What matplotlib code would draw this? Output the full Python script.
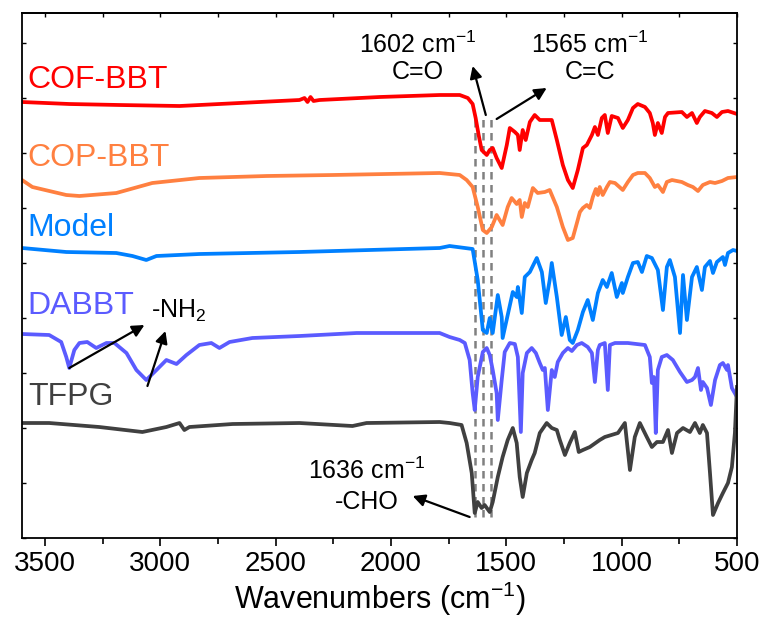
import numpy as np
import matplotlib.pyplot as plt
from matplotlib.ticker import MultipleLocator, NullFormatter

plt.rcParams['font.family'] = ['Liberation Sans', 'DejaVu Sans']
plt.rcParams['mathtext.fontset'] = 'custom'
plt.rcParams['mathtext.rm'] = 'Liberation Sans'
plt.rcParams['mathtext.it'] = 'Liberation Sans'

# FTIR spectra, wavenumber (cm-1) vs. offset transmittance (a.u.)
cof_wn = [3600, 3395, 3178, 2917, 2657, 2397, 2375, 2362, 2349, 2336, 2310, 2049, 1789, 1702, 1667,
          1646, 1633, 1620, 1607, 1585, 1572, 1559, 1542, 1520, 1498, 1485, 1463, 1450, 1442, 1429,
          1416, 1398, 1377, 1355, 1303, 1281, 1255, 1233, 1212, 1190, 1168, 1151, 1129, 1116, 1103,
          1086, 1073, 1060, 1043, 1016, 995, 973, 951, 930, 899, 878, 865, 856, 843, 826, 812, 799,
          739, 717, 695, 674, 661, 639, 609, 587, 565, 539, 500]
cof_t = [436, 434, 433, 432, 435, 438, 440, 436, 441, 437, 438, 441, 443, 443, 440,
         434, 420, 403, 388, 383, 388, 390, 380, 370, 393, 410, 406, 403, 388, 408,
         398, 416, 423, 418, 418, 398, 373, 358, 350, 368, 390, 393, 403, 411, 403,
         420, 423, 405, 422, 420, 410, 418, 430, 434, 431, 425, 415, 403, 415, 405, 421, 425,
         426, 421, 425, 415, 421, 427, 425, 421, 426, 427, 424]

cop_wn = [3600, 3555, 3408, 3351, 3191, 3035, 2831, 2540, 2253, 1789, 1702, 1672, 1646, 1624, 1602,
          1585, 1563, 1542, 1529, 1516, 1494, 1477, 1455, 1442, 1433, 1420, 1407, 1385, 1364, 1333,
          1312, 1281, 1255, 1233, 1212, 1194, 1181, 1168, 1151, 1138, 1125, 1112, 1103, 1095, 1082,
          1064, 1051, 1029, 995, 973, 951, 930, 899, 878, 856, 843, 821, 804, 782, 739, 713, 691,
          669, 648, 617, 595, 565, 539, 500]
cop_t = [358, 351, 343, 342, 345, 355, 360, 362, 363, 365, 363, 358, 351, 331, 308,
         305, 311, 323, 318, 313, 331, 340, 334, 338, 321, 335, 331, 350, 345, 346,
         348, 331, 311, 298, 300, 315, 326, 330, 333, 330, 341, 349, 343, 351, 343,
         351, 356, 355, 348, 356, 363, 365, 365, 360, 351, 353, 346, 356, 358, 356, 353, 351,
         347, 353, 356, 355, 357, 360, 361]

model_wn = [3600, 3408, 3191, 3121, 3061, 3017, 2831, 2397, 1789, 1746, 1646, 1624, 1602, 1585, 1572,
            1559, 1537, 1520, 1516, 1494, 1472, 1455, 1450, 1433, 1420, 1398, 1368, 1346, 1329, 1312,
            1303, 1281, 1260, 1242, 1225, 1212, 1190, 1168, 1147, 1125, 1103, 1082, 1064, 1043, 1021,
            999, 995, 973, 951, 930, 912, 891, 869, 843, 821, 804, 791, 769, 747, 734, 717, 695,
            674, 652, 639, 617, 604, 587, 561, 552, 539, 517, 500]
model_t = [290, 286, 285, 282, 278, 282, 284, 286, 290, 292, 289, 258, 208, 205, 220,
           205, 243, 221, 200, 223, 246, 241, 251, 225, 261, 266, 280, 266, 235, 258,
           275, 241, 203, 221, 198, 195, 208, 226, 238, 218, 245, 258, 251, 265, 241,
           255, 245, 261, 275, 276, 266, 282, 280, 268, 228, 271, 278, 261, 205, 263, 218, 261,
           271, 248, 271, 277, 265, 276, 281, 273, 285, 288, 287]

dabbt_wn = [3600, 3482, 3430, 3408, 3395, 3373, 3351, 3317, 3278, 3234, 3199, 3147, 3104, 3061, 3017,
            2974, 2930, 2887, 2831, 2779, 2744, 2700, 2601, 2397, 2149, 1789, 1746, 1702, 1680, 1659,
            1646, 1637, 1624, 1602, 1585, 1572, 1559, 1542, 1537, 1520, 1507, 1485, 1463, 1450, 1437,
            1429, 1411, 1390, 1372, 1355, 1342, 1333, 1320, 1303, 1290, 1277, 1255, 1233, 1216, 1194,
            1173, 1147, 1129, 1116, 1103, 1095, 1073, 1060, 1051, 1029, 973, 899, 878, 869, 860,
            852, 843, 826, 804, 778, 747, 717, 695, 682, 669, 656, 648, 630, 613, 595, 574, 561,
            543, 539, 522, 500]
dabbt_t = [204, 203, 196, 181, 170, 188, 195, 196, 190, 195, 195, 185, 168, 158, 168,
           178, 174, 183, 193, 195, 190, 196, 200, 202, 205, 205, 201, 198, 195, 178,
           145, 128, 161, 186, 190, 183, 168, 145, 118, 158, 186, 195, 194, 181, 106,
           165, 185, 190, 185, 175, 168, 170, 128, 168, 161, 176, 185, 190, 187, 193,
           195, 191, 185, 156, 188, 193, 195, 148, 193, 195, 195, 193, 181, 155, 161,
           105, 168, 181, 183, 178, 166, 156, 158, 161, 170, 148, 156, 150, 133, 158, 173, 175,
           168, 173, 150, 141]

tfpg_wn = [3600, 3482, 3265, 3078, 2974, 2917, 2896, 2874, 2687, 2397, 2167, 2106, 1789, 1746, 1694,
           1672, 1650, 1637, 1624, 1607, 1594, 1572, 1559, 1537, 1516, 1494, 1472, 1455, 1442, 1429,
           1411, 1390, 1377, 1355, 1325, 1303, 1281, 1268, 1246, 1225, 1203, 1186, 1168, 1138, 1095,
           1073, 1016, 986, 964, 943, 921, 891, 869, 847, 821, 799, 782, 760, 734, 704, 682, 661,
           648, 630, 617, 604, 582, 561, 539, 522, 509, 500]
tfpg_t = [115, 115, 111, 106, 111, 115, 108, 111, 114, 115, 112, 115, 116, 115, 113,
          95, 65, 25, 36, 30, 33, 26, 36, 61, 81, 98, 110, 95, 61, 41,
          65, 78, 85, 105, 115, 110, 108, 98, 83, 95, 106, 86, 88, 91, 98,
          101, 105, 115, 68, 101, 115, 101, 91, 96, 96, 108, 85, 105, 110, 106, 115, 105,
          113, 105, 65, 23, 35, 45, 55, 71, 105, 151]

names = ['COF-BBT', 'COP-BBT', 'Model', 'DABBT', 'TFPG']
colors = ['#ff0000', '#ff8040', '#0080ff', '#5b5bff', '#404040']
label_y = [458, 380, 310, 232, 141]
marks = [1636, 1602, 1565]

fig = plt.figure(figsize=(7.66, 6.28), dpi=100)
ax = fig.add_axes([0.0287, 0.1433, 0.9334, 0.836])

series = [(cof_wn, cof_t), (cop_wn, cop_t), (model_wn, model_t), (dabbt_wn, dabbt_t), (tfpg_wn, tfpg_t)]
for (wn, t), c in zip(series, colors):
    ax.plot(wn, t, color=c, lw=2.7, solid_joinstyle='round')

for name, c, y in zip(names, colors, label_y):
    ax.text(3575, y, name, color=c, fontsize=23, ha='left', va='center')

for m in marks:
    ax.plot([m, m], [21, 420], color='#808080', lw=1.8, ls=(0, (3, 2.2)), zorder=0.5)

txt = dict(fontsize=18, ha='center', va='center', color='black')
ax.text(1884, 493, '1602 cm$^{-1}$', **txt)
ax.text(1884, 466, 'C=O', **txt)
ax.text(1138, 493, '1565 cm$^{-1}$', **txt)
ax.text(1138, 466, 'C=C', **txt)
ax.text(2106, 67, '1636 cm$^{-1}$', **txt)
ax.text(2106, 36, '-CHO', **txt)
ax.text(3039, 220, '-NH$_2$', fontsize=18, ha='left', va='baseline')

arrow = dict(arrowstyle='-|>', color='black', lw=1.6, mutation_scale=18, shrinkA=0, shrinkB=0)
ax.annotate('', xy=(1646, 472), xytext=(1589, 423), arrowprops=arrow)
ax.annotate('', xy=(1325, 450), xytext=(1542, 419), arrowprops=arrow)
ax.annotate('', xy=(3069, 213), xytext=(3395, 170), arrowprops=arrow)
ax.annotate('', xy=(2978, 207), xytext=(3056, 152), arrowprops=arrow)
ax.annotate('', xy=(1906, 42), xytext=(1659, 21), arrowprops=arrow)

ax.set_xlim(3600, 500)
ax.set_ylim(0, 525)
ax.xaxis.set_major_locator(MultipleLocator(500))
ax.xaxis.set_minor_locator(MultipleLocator(250))
ax.yaxis.set_major_locator(MultipleLocator(55))
ax.yaxis.set_major_formatter(NullFormatter())
ax.tick_params(axis='x', which='major', direction='out', length=6, width=1.2, labelsize=20, pad=3)
ax.tick_params(axis='x', which='minor', direction='out', length=4, width=1.2)
ax.tick_params(axis='y', which='major', direction='in', length=3, width=1, left=True, right=True)
ax.tick_params(top=False)
for s in ax.spines.values():
    s.set_linewidth(1.3)

sec = ax.secondary_xaxis('top')
sec.xaxis.set_major_locator(MultipleLocator(250))
sec.tick_params(direction='in', length=3, width=1, labeltop=False)
sec.spines['top'].set_linewidth(1.3)

ax.set_xlabel('Wavenumbers (cm$^{-1}$)', fontsize=22, labelpad=2)

fig.savefig('out.png', dpi=100)
